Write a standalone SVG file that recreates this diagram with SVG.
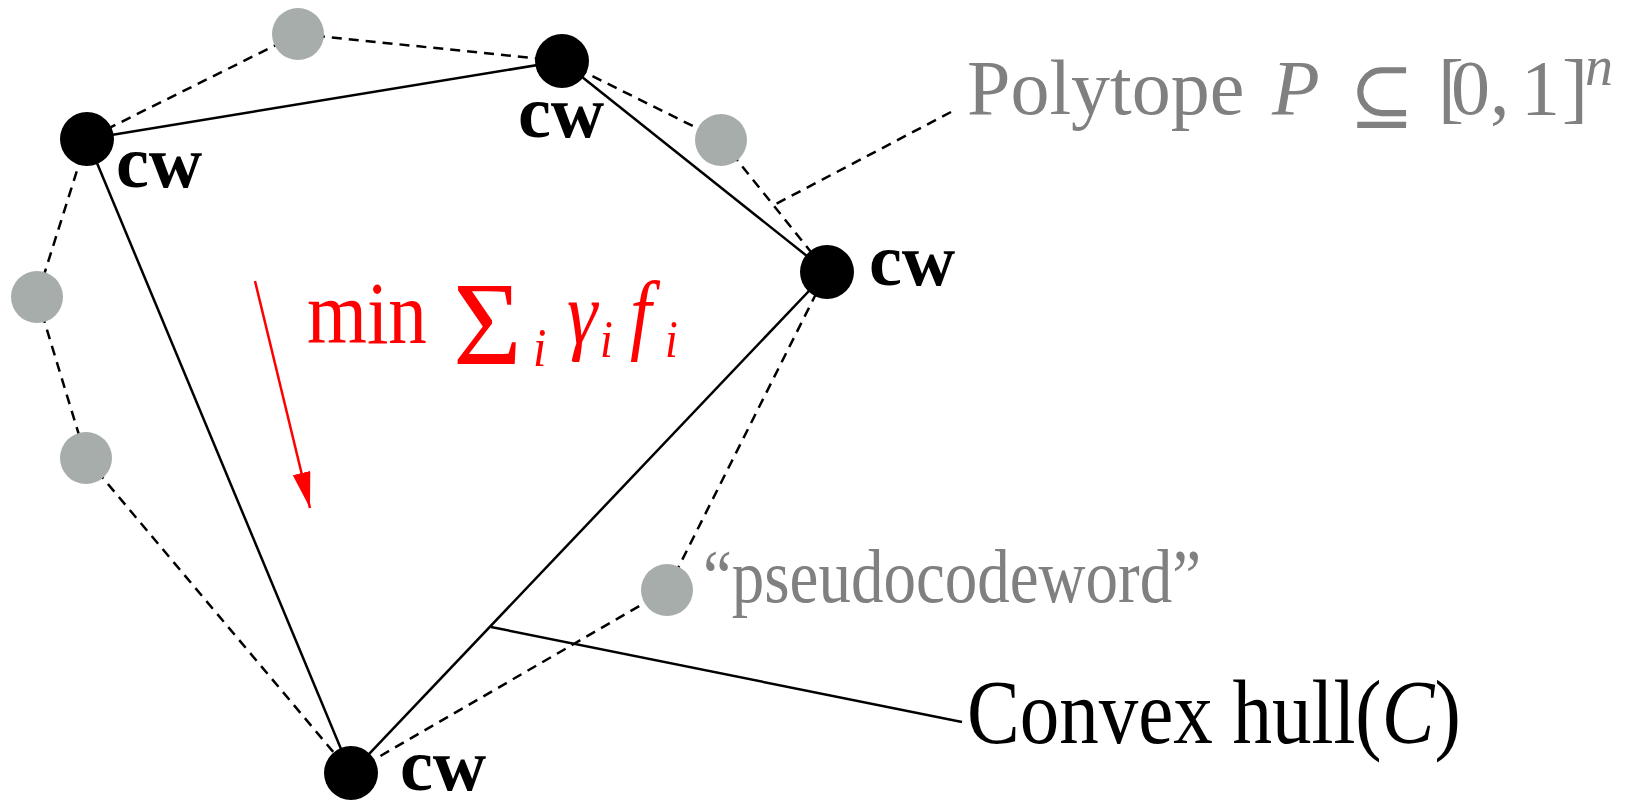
<svg xmlns="http://www.w3.org/2000/svg" width="1630" height="800" viewBox="0 0 1630 800">
<style>
.solid{stroke:#000;stroke-width:2.5;fill:none}
.dash{stroke:#000;stroke-width:2.5;fill:none;stroke-dasharray:10 7}
.cw{fill:#000}
.pc{fill:#a7adab}
.lbl{font-family:"Liberation Serif","DejaVu Serif",serif;font-weight:bold;font-size:74px;fill:#000}
.gtxt{font-family:"Liberation Serif","DejaVu Serif",serif;fill:#808080}
.btxt{font-family:"Liberation Serif","DejaVu Serif",serif;fill:#000}
.red{font-family:"Liberation Serif","DejaVu Serif",serif;fill:#ff0000}
.it{font-style:italic}
.sym{font-family:"DejaVu Sans","DejaVu Serif",sans-serif;font-weight:200}
</style>
<defs>
<marker id="ah" markerUnits="userSpaceOnUse" markerWidth="40" markerHeight="20" refX="36" refY="9" orient="auto">
<path d="M0,0 L36,9 L0,18 Z" fill="#ff0000"/>
</marker>
</defs>
<rect width="1630" height="800" fill="#fff"/>
<g id="connectors">
<line class="dash" x1="298" y1="34" x2="87" y2="139"/>
<line class="dash" x1="298" y1="34" x2="562" y2="61"/>
<line class="dash" x1="562" y1="61" x2="721" y2="140"/>
<line class="dash" x1="721" y1="140" x2="827" y2="272"/>
<line class="dash" x1="87" y1="139" x2="37" y2="297"/>
<line class="dash" x1="37" y1="297" x2="86" y2="458"/>
<line class="dash" x1="86" y1="458" x2="351" y2="773"/>
<line class="dash" x1="351" y1="773" x2="667" y2="590"/>
<line class="dash" x1="667" y1="590" x2="827" y2="272"/>
<line class="solid" x1="87" y1="139" x2="562" y2="61"/>
<line class="solid" x1="562" y1="61" x2="827" y2="272"/>
<line class="solid" x1="827" y1="272" x2="351" y2="773"/>
<line class="solid" x1="351" y1="773" x2="87" y2="139"/>
<line class="dash" x1="951" y1="112" x2="774" y2="205"/>
<line class="solid" x1="491" y1="627" x2="962" y2="722"/>
<line x1="255" y1="281" x2="310" y2="508" stroke="#ff0000" stroke-width="2.5" marker-end="url(#ah)"/>
</g>
<g id="cw-left"><circle class="cw" cx="87" cy="139" r="27"/><text class="lbl" x="116" y="187">cw</text></g>
<g id="cw-top"><circle class="cw" cx="562" cy="61" r="27"/><text class="lbl" x="518" y="137">cw</text></g>
<g id="cw-right"><circle class="cw" cx="827" cy="272" r="27"/><text class="lbl" x="869" y="285">cw</text></g>
<g id="cw-bottom"><circle class="cw" cx="351" cy="773" r="27"/><text class="lbl" x="400" y="790">cw</text></g>
<g id="pc-top"><circle class="pc" cx="298" cy="34" r="26"/></g>
<g id="pc-right"><circle class="pc" cx="721" cy="140" r="26"/></g>
<g id="pc-left1"><circle class="pc" cx="37" cy="297" r="26"/></g>
<g id="pc-left2"><circle class="pc" cx="86" cy="458" r="26"/></g>
<g id="pc-pseudo"><circle class="pc" cx="667" cy="590" r="26"/><text class="gtxt" transform="translate(703,602) scale(1,1.16)" font-size="65">“pseudocodeword”</text></g>
<g id="label-polytope">
<text class="gtxt" y="114" font-size="78"><tspan x="967">Polytope</tspan><tspan class="it" x="1272">P</tspan><tspan class="sym" x="1349" y="122" font-size="78">⊆</tspan><tspan x="1438" y="114">[</tspan><tspan x="1451">0</tspan><tspan x="1490">,</tspan><tspan x="1521">1</tspan><tspan x="1562">]</tspan><tspan class="it" x="1585" y="85" font-size="56">n</tspan></text>
</g>
<g id="label-hull">
<text class="btxt" transform="translate(967,743) scale(1,1.16)" font-size="79"><tspan>Convex hull(</tspan><tspan class="it">C</tspan><tspan>)</tspan></text>
</g>
<g id="label-objective">
<text class="red" transform="translate(307,343) scale(1,1.16)" font-size="77">min</text>
<text class="red" x="453" y="364" font-size="118">Σ</text>
<text class="red it" transform="translate(533,366) scale(1,1.16)" font-size="48">i</text>
<text class="red it" transform="translate(567,343) scale(1,1.16)" font-size="77">γ</text>
<text class="red it" transform="translate(600,357) scale(1,1.16)" font-size="46">i</text>
<text class="red it" transform="translate(630,343) scale(1,1.16)" font-size="77">f</text>
<text class="red it" transform="translate(665,357) scale(1,1.16)" font-size="46">i</text>
</g>
</svg>
